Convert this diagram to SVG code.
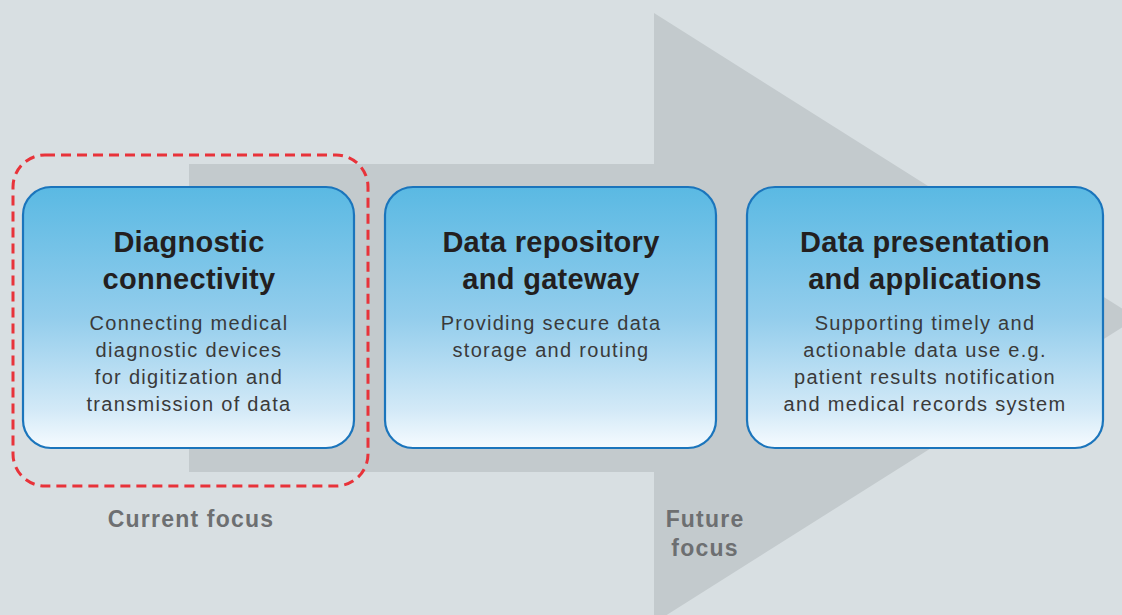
<svg xmlns="http://www.w3.org/2000/svg" width="1122" height="615" viewBox="0 0 1122 615">
<defs>
<linearGradient id="boxgrad" x1="0" y1="0" x2="0" y2="1">
<stop offset="0" stop-color="#5ab9e3"/>
<stop offset="0.5" stop-color="#93cdec"/>
<stop offset="0.85" stop-color="#d2e9f7"/>
<stop offset="1" stop-color="#f6fbff"/>
</linearGradient>
<style>
.box{fill:url(#boxgrad);stroke:#1b75bc;stroke-width:2.2}
.title{font-family:"Liberation Sans",Arial,sans-serif;font-weight:bold;font-size:29px;fill:#231f20;text-anchor:middle;letter-spacing:0.3px}
.desc{font-family:"Liberation Sans",Arial,sans-serif;font-size:20px;fill:#3a3a3a;text-anchor:middle;letter-spacing:1.3px}
.label{font-family:"Liberation Sans",Arial,sans-serif;font-weight:bold;font-size:23px;fill:#6d6f71;text-anchor:middle;letter-spacing:1.2px}
</style>
</defs>
<rect x="0" y="0" width="1122" height="615" fill="#d8dfe2"/>
<g id="arrow">
<polygon points="189,164 654,164 654,13 1137,318 654,623 654,472 189,472" fill="#c3cacd"/>
</g>
<g id="current-focus">
<rect x="13" y="155" width="355" height="331" rx="32" fill="none" stroke="#e8333a" stroke-width="3" stroke-dasharray="10,6"/>
<text class="label" x="191" y="527">Current focus</text>
</g>
<g id="future-focus">
<text class="label" x="705" y="527">Future</text>
<text class="label" x="705" y="556">focus</text>
</g>
<g id="node-diagnostic">
<rect class="box" x="23" y="187" width="331" height="261" rx="28"/>
<text class="title" x="189" y="252">Diagnostic</text>
<text class="title" x="189" y="289">connectivity</text>
<text class="desc" x="189" y="330">Connecting medical</text>
<text class="desc" x="189" y="357">diagnostic devices</text>
<text class="desc" x="189" y="384">for digitization and</text>
<text class="desc" x="189" y="411">transmission of data</text>
</g>
<g id="node-repository">
<rect class="box" x="385" y="187" width="331" height="261" rx="28"/>
<text class="title" x="551" y="252">Data repository</text>
<text class="title" x="551" y="289">and gateway</text>
<text class="desc" x="551" y="330">Providing secure data</text>
<text class="desc" x="551" y="357">storage and routing</text>
</g>
<g id="node-presentation">
<rect class="box" x="747" y="187" width="356" height="261" rx="28"/>
<text class="title" x="925" y="252">Data presentation</text>
<text class="title" x="925" y="289">and applications</text>
<text class="desc" x="925" y="330">Supporting timely and</text>
<text class="desc" x="925" y="357">actionable data use e.g.</text>
<text class="desc" x="925" y="384">patient results notification</text>
<text class="desc" x="925" y="411">and medical records system</text>
</g>
<g id="connectors"></g>
</svg>
